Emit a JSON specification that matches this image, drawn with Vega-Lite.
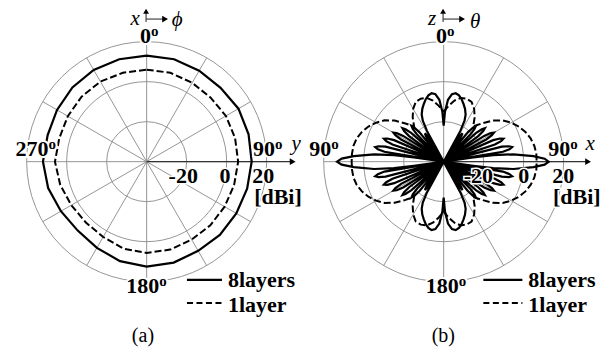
{
  "$schema": "https://vega.github.io/schema/vega-lite/v6.json",
  "padding": 0,
  "bounds": "flush",
  "spacing": 0,
  "config": {"font": "Liberation Serif", "view": {"stroke": null}, "axis": {"disable": true}},
  "data": {"values": [
    {"p":"a","k":"ring","g":-20},{"p":"a","k":"ring","g":0},{"p":"a","k":"ring","g":20},
    {"p":"b","k":"ring","g":-20},{"p":"b","k":"ring","g":0},{"p":"b","k":"ring","g":20},
    {"p":"a","k":"sp","a":0},{"p":"a","k":"sp","a":30},{"p":"a","k":"sp","a":60},{"p":"a","k":"sp","a":90},{"p":"a","k":"sp","a":120},{"p":"a","k":"sp","a":150},
    {"p":"a","k":"sp","a":180},{"p":"a","k":"sp","a":210},{"p":"a","k":"sp","a":240},{"p":"a","k":"sp","a":270},{"p":"a","k":"sp","a":300},{"p":"a","k":"sp","a":330},
    {"p":"b","k":"sp","a":0},{"p":"b","k":"sp","a":30},{"p":"b","k":"sp","a":60},{"p":"b","k":"sp","a":90},{"p":"b","k":"sp","a":120},{"p":"b","k":"sp","a":150},
    {"p":"b","k":"sp","a":180},{"p":"b","k":"sp","a":210},{"p":"b","k":"sp","a":240},{"p":"b","k":"sp","a":270},{"p":"b","k":"sp","a":300},{"p":"b","k":"sp","a":330},

    {"p":"a","k":"ax","x":0,"y":0,"x2":73,"y2":0},
    {"p":"a","k":"ax","x":-0.3,"y":69.85,"x2":-0.3,"y2":74.5},
    {"p":"a","k":"ax","x":-0.3,"y":71.3,"x2":8.5,"y2":71.3},
    {"p":"b","k":"ax","x":0,"y":0,"x2":72,"y2":0},
    {"p":"b","k":"ax","x":-0.3,"y":69.85,"x2":-0.3,"y2":74.5},
    {"p":"b","k":"ax","x":-0.3,"y":71.3,"x2":8.5,"y2":71.3},
    {"p":"a","k":"hr","x":73,"y":0},{"p":"a","k":"hr","x":9.2,"y":71.3},{"p":"a","k":"hu","x":-0.3,"y":75.2},
    {"p":"b","k":"hr","x":72.2,"y":0},{"p":"b","k":"hr","x":9.2,"y":71.3},{"p":"b","k":"hu","x":-0.3,"y":75.2},

    {"p":"a","k":"dn","t":"0","x":2.15,"y":59.2},{"p":"a","k":"dn","t":"90","x":64.15,"y":2.9},
    {"p":"a","k":"dn","t":"270","x":-49.1,"y":2.9},{"p":"a","k":"dn","t":"180","x":6.3,"y":-65.65},
    {"p":"b","k":"dn","t":"0","x":1.7,"y":59.2},{"p":"b","k":"dn","t":"90","x":63.35,"y":2.9},
    {"p":"b","k":"dn","t":"90","x":-56.15,"y":2.9},{"p":"b","k":"dn","t":"180","x":7.5,"y":-65.65},
    {"p":"a","k":"do","t":"o","x":2.15,"y":62.85},{"p":"a","k":"do","t":"o","x":64.15,"y":6.55},
    {"p":"a","k":"do","t":"o","x":-49.1,"y":6.55},{"p":"a","k":"do","t":"o","x":6.3,"y":-62},
    {"p":"b","k":"do","t":"o","x":1.7,"y":62.85},{"p":"b","k":"do","t":"o","x":63.35,"y":6.55},
    {"p":"b","k":"do","t":"o","x":-56.15,"y":6.55},{"p":"b","k":"do","t":"o","x":7.5,"y":-62},
    {"p":"a","k":"tk","t":"-20","x":18.3,"y":-10.65},{"p":"a","k":"tk","t":"0","x":39.15,"y":-10.65},
    {"p":"a","k":"tk","t":"20","x":58.3,"y":-10.65},{"p":"a","k":"tk","t":"[dBi]","x":65.65,"y":-21.4},
    {"p":"b","k":"tk","t":"-20","x":17.35,"y":-10.65},{"p":"b","k":"tk","t":"0","x":40,"y":-10.65},
    {"p":"b","k":"tk","t":"20","x":59.85,"y":-10.65},{"p":"b","k":"tk","t":"[dBi]","x":66.6,"y":-21.4},
    {"p":"a","k":"it","t":"x","x":-5.8,"y":68.3},{"p":"a","k":"it","t":"ϕ","x":15.2,"y":68.05},{"p":"a","k":"it","t":"y","x":74.7,"y":6.0},
    {"p":"b","k":"it","t":"z","x":-5.8,"y":68.3},{"p":"b","k":"it","t":"θ","x":15.7,"y":66.85},{"p":"b","k":"it","t":"x","x":73.3,"y":6.0},
    {"p":"a","k":"l8","x":20.15,"y":-59.15,"x2":37.65,"y2":-59.15},{"p":"a","k":"l1","x":20.15,"y":-70.65,"x2":37.65,"y2":-70.65},
    {"p":"b","k":"l8","x":19.85,"y":-59.15,"x2":39.35,"y2":-59.15},{"p":"b","k":"l1","x":19.85,"y":-70.65,"x2":39.35,"y2":-70.65},
    {"p":"a","k":"lg","t":"8layers","x":40.65,"y":-62.5},{"p":"a","k":"lg","t":"1layer","x":40.65,"y":-75},
    {"p":"b","k":"lg","t":"8layers","x":42.35,"y":-62.5},{"p":"b","k":"lg","t":"1layer","x":42.35,"y":-75},
    {"p":"a","k":"cp","t":"(a)","x":-1.85,"y":-90.4},{"p":"b","k":"cp","t":"(b)","x":-0.15,"y":-90.4},

    {"p":"a","k":"c8","a":0,"g":13},{"p":"a","k":"c8","a":15,"g":13},{"p":"a","k":"c8","a":30,"g":12.5},{"p":"a","k":"c8","a":45,"g":12.25},
    {"p":"a","k":"c8","a":60,"g":13},{"p":"a","k":"c8","a":75,"g":12.75},{"p":"a","k":"c8","a":90,"g":12.5},{"p":"a","k":"c8","a":105,"g":12},
    {"p":"a","k":"c8","a":120,"g":11.75},{"p":"a","k":"c8","a":135,"g":11.75},{"p":"a","k":"c8","a":150,"g":11.5},{"p":"a","k":"c8","a":165,"g":12.25},
    {"p":"a","k":"c8","a":180,"g":12.5},{"p":"a","k":"c8","a":195,"g":11.5},{"p":"a","k":"c8","a":210,"g":9.75},{"p":"a","k":"c8","a":225,"g":8.75},
    {"p":"a","k":"c8","a":240,"g":9.5},{"p":"a","k":"c8","a":255,"g":11},{"p":"a","k":"c8","a":270,"g":11.85},{"p":"a","k":"c8","a":285,"g":11.25},
    {"p":"a","k":"c8","a":300,"g":11.75},{"p":"a","k":"c8","a":315,"g":12.5},{"p":"a","k":"c8","a":330,"g":13},{"p":"a","k":"c8","a":345,"g":13},
    {"p":"a","k":"c8","a":360,"g":13},

    {"p":"a","k":"c1","a":0,"g":6},{"p":"a","k":"c1","a":15,"g":6},{"p":"a","k":"c1","a":30,"g":5.5},{"p":"a","k":"c1","a":45,"g":5.25},
    {"p":"a","k":"c1","a":60,"g":5.75},{"p":"a","k":"c1","a":75,"g":5.75},{"p":"a","k":"c1","a":90,"g":5.75},{"p":"a","k":"c1","a":105,"g":5.25},
    {"p":"a","k":"c1","a":120,"g":5},{"p":"a","k":"c1","a":135,"g":5},{"p":"a","k":"c1","a":150,"g":5},{"p":"a","k":"c1","a":165,"g":5.5},
    {"p":"a","k":"c1","a":180,"g":5.65},{"p":"a","k":"c1","a":195,"g":5},{"p":"a","k":"c1","a":210,"g":3.5},{"p":"a","k":"c1","a":225,"g":3},
    {"p":"a","k":"c1","a":240,"g":3.5},{"p":"a","k":"c1","a":255,"g":4.75},{"p":"a","k":"c1","a":270,"g":5.85},{"p":"a","k":"c1","a":285,"g":5.25},
    {"p":"a","k":"c1","a":300,"g":5.5},{"p":"a","k":"c1","a":315,"g":6},{"p":"a","k":"c1","a":330,"g":6.25},{"p":"a","k":"c1","a":345,"g":6},
    {"p":"a","k":"c1","a":360,"g":6},

    {"p":"b","k":"c1","a":0,"g":-15},{"p":"b","k":"c1","a":5,"g":-12},{"p":"b","k":"c1","a":10,"g":-9},{"p":"b","k":"c1","a":15,"g":-7},
    {"p":"b","k":"c1","a":20,"g":-6.5},{"p":"b","k":"c1","a":25,"g":-7},{"p":"b","k":"c1","a":30,"g":-9.5},{"p":"b","k":"c1","a":35,"g":-13},
    {"p":"b","k":"c1","a":40,"g":-17},{"p":"b","k":"c1","a":45,"g":-13},{"p":"b","k":"c1","a":50,"g":-8},{"p":"b","k":"c1","a":55,"g":-4},
    {"p":"b","k":"c1","a":60,"g":-1},{"p":"b","k":"c1","a":65,"g":1.5},{"p":"b","k":"c1","a":70,"g":3.5},{"p":"b","k":"c1","a":75,"g":5},
    {"p":"b","k":"c1","a":80,"g":6},{"p":"b","k":"c1","a":85,"g":6.5},{"p":"b","k":"c1","a":90,"g":6.5},{"p":"b","k":"c1","a":95,"g":6.5},
    {"p":"b","k":"c1","a":100,"g":6},{"p":"b","k":"c1","a":105,"g":5},{"p":"b","k":"c1","a":110,"g":3.5},{"p":"b","k":"c1","a":115,"g":1.5},
    {"p":"b","k":"c1","a":120,"g":-1},{"p":"b","k":"c1","a":125,"g":-4},{"p":"b","k":"c1","a":130,"g":-8},{"p":"b","k":"c1","a":135,"g":-13},
    {"p":"b","k":"c1","a":140,"g":-17},{"p":"b","k":"c1","a":145,"g":-13},{"p":"b","k":"c1","a":150,"g":-9.5},{"p":"b","k":"c1","a":155,"g":-7},
    {"p":"b","k":"c1","a":160,"g":-6.5},{"p":"b","k":"c1","a":165,"g":-7},{"p":"b","k":"c1","a":170,"g":-9},{"p":"b","k":"c1","a":175,"g":-12},
    {"p":"b","k":"c1","a":180,"g":-15},{"p":"b","k":"c1","a":185,"g":-12},{"p":"b","k":"c1","a":190,"g":-9},{"p":"b","k":"c1","a":195,"g":-7},
    {"p":"b","k":"c1","a":200,"g":-6.5},{"p":"b","k":"c1","a":205,"g":-7},{"p":"b","k":"c1","a":210,"g":-9.5},{"p":"b","k":"c1","a":215,"g":-13},
    {"p":"b","k":"c1","a":220,"g":-17},{"p":"b","k":"c1","a":225,"g":-13},{"p":"b","k":"c1","a":230,"g":-8},{"p":"b","k":"c1","a":235,"g":-4},
    {"p":"b","k":"c1","a":240,"g":-1},{"p":"b","k":"c1","a":245,"g":1.5},{"p":"b","k":"c1","a":250,"g":3.5},{"p":"b","k":"c1","a":255,"g":5},
    {"p":"b","k":"c1","a":260,"g":5.8},{"p":"b","k":"c1","a":265,"g":6},{"p":"b","k":"c1","a":270,"g":6},{"p":"b","k":"c1","a":275,"g":6},
    {"p":"b","k":"c1","a":280,"g":5.8},{"p":"b","k":"c1","a":285,"g":5},{"p":"b","k":"c1","a":290,"g":3.5},{"p":"b","k":"c1","a":295,"g":1.5},
    {"p":"b","k":"c1","a":300,"g":-1},{"p":"b","k":"c1","a":305,"g":-4},{"p":"b","k":"c1","a":310,"g":-8},{"p":"b","k":"c1","a":315,"g":-13},
    {"p":"b","k":"c1","a":320,"g":-17},{"p":"b","k":"c1","a":325,"g":-13},{"p":"b","k":"c1","a":330,"g":-9.5},{"p":"b","k":"c1","a":335,"g":-7},
    {"p":"b","k":"c1","a":340,"g":-6.5},{"p":"b","k":"c1","a":345,"g":-7},{"p":"b","k":"c1","a":350,"g":-9},{"p":"b","k":"c1","a":355,"g":-12},
    {"p":"b","k":"c1","a":360,"g":-15},

    {"p":"b","k":"c8","a":0,"g":-22},{"p":"b","k":"c8","a":1.5,"g":-15},{"p":"b","k":"c8","a":4,"g":-9},{"p":"b","k":"c8","a":7,"g":-6},
    {"p":"b","k":"c8","a":10,"g":-5.25},{"p":"b","k":"c8","a":13,"g":-6},{"p":"b","k":"c8","a":16,"g":-7.5},{"p":"b","k":"c8","a":19,"g":-9.5},
    {"p":"b","k":"c8","a":22,"g":-11.5},{"p":"b","k":"c8","a":25,"g":-14},{"p":"b","k":"c8","a":27,"g":-17},{"p":"b","k":"c8","a":28.5,"g":-22.5},
    {"p":"b","k":"c8","a":29.5,"g":-40},
    {"p":"b","k":"c8","a":30,"g":-40},{"p":"b","k":"c8","a":31,"g":-28},{"p":"b","k":"c8","a":32.2,"g":-24.5},{"p":"b","k":"c8","a":33.5,"g":-23},{"p":"b","k":"c8","a":34.8,"g":-24.5},{"p":"b","k":"c8","a":36,"g":-28},{"p":"b","k":"c8","a":37,"g":-40},
    {"p":"b","k":"c8","a":38.5,"g":-40},{"p":"b","k":"c8","a":39.5,"g":-21},{"p":"b","k":"c8","a":40.7,"g":-17.5},{"p":"b","k":"c8","a":42,"g":-16},{"p":"b","k":"c8","a":43.3,"g":-17.5},{"p":"b","k":"c8","a":44.5,"g":-21},{"p":"b","k":"c8","a":45.5,"g":-40},
    {"p":"b","k":"c8","a":47.5,"g":-40},{"p":"b","k":"c8","a":48.5,"g":-18.5},{"p":"b","k":"c8","a":49.7,"g":-15},{"p":"b","k":"c8","a":51,"g":-13.5},{"p":"b","k":"c8","a":52.3,"g":-15},{"p":"b","k":"c8","a":53.5,"g":-18.5},{"p":"b","k":"c8","a":54.5,"g":-40},
    {"p":"b","k":"c8","a":56.5,"g":-40},{"p":"b","k":"c8","a":57.5,"g":-16},{"p":"b","k":"c8","a":58.7,"g":-12.5},{"p":"b","k":"c8","a":60,"g":-11},{"p":"b","k":"c8","a":61.3,"g":-12.5},{"p":"b","k":"c8","a":62.5,"g":-16},{"p":"b","k":"c8","a":63.5,"g":-40},
    {"p":"b","k":"c8","a":65.5,"g":-40},{"p":"b","k":"c8","a":66.5,"g":-13},{"p":"b","k":"c8","a":67.7,"g":-9.5},{"p":"b","k":"c8","a":69,"g":-8},{"p":"b","k":"c8","a":70.3,"g":-9.5},{"p":"b","k":"c8","a":71.5,"g":-13},{"p":"b","k":"c8","a":72.5,"g":-40},
    {"p":"b","k":"c8","a":74.5,"g":-40},{"p":"b","k":"c8","a":75.5,"g":-10},{"p":"b","k":"c8","a":76.7,"g":-6.5},{"p":"b","k":"c8","a":78,"g":-5},{"p":"b","k":"c8","a":79.3,"g":-6.5},{"p":"b","k":"c8","a":80.5,"g":-10},{"p":"b","k":"c8","a":81.5,"g":-40},
    {"p":"b","k":"c8","a":82,"g":-25},{"p":"b","k":"c8","a":82.5,"g":-15},{"p":"b","k":"c8","a":84,"g":-5},{"p":"b","k":"c8","a":86.5,"g":5},{"p":"b","k":"c8","a":88.3,"g":10.5},{"p":"b","k":"c8","a":90,"g":12.5},
    {"p":"b","k":"c8","a":91.7,"g":10.5},{"p":"b","k":"c8","a":93.5,"g":5},{"p":"b","k":"c8","a":96,"g":-5},{"p":"b","k":"c8","a":97.5,"g":-15},{"p":"b","k":"c8","a":98,"g":-25},
    {"p":"b","k":"c8","a":98.5,"g":-40},{"p":"b","k":"c8","a":99.5,"g":-10},{"p":"b","k":"c8","a":100.7,"g":-6.5},{"p":"b","k":"c8","a":102,"g":-5},{"p":"b","k":"c8","a":103.3,"g":-6.5},{"p":"b","k":"c8","a":104.5,"g":-10},{"p":"b","k":"c8","a":105.5,"g":-40},
    {"p":"b","k":"c8","a":107.5,"g":-40},{"p":"b","k":"c8","a":108.5,"g":-13},{"p":"b","k":"c8","a":109.7,"g":-9.5},{"p":"b","k":"c8","a":111,"g":-8},{"p":"b","k":"c8","a":112.3,"g":-9.5},{"p":"b","k":"c8","a":113.5,"g":-13},{"p":"b","k":"c8","a":114.5,"g":-40},
    {"p":"b","k":"c8","a":116.5,"g":-40},{"p":"b","k":"c8","a":117.5,"g":-16},{"p":"b","k":"c8","a":118.7,"g":-12.5},{"p":"b","k":"c8","a":120,"g":-11},{"p":"b","k":"c8","a":121.3,"g":-12.5},{"p":"b","k":"c8","a":122.5,"g":-16},{"p":"b","k":"c8","a":123.5,"g":-40},
    {"p":"b","k":"c8","a":125.5,"g":-40},{"p":"b","k":"c8","a":126.5,"g":-18.5},{"p":"b","k":"c8","a":127.7,"g":-15},{"p":"b","k":"c8","a":129,"g":-13.5},{"p":"b","k":"c8","a":130.3,"g":-15},{"p":"b","k":"c8","a":131.5,"g":-18.5},{"p":"b","k":"c8","a":132.5,"g":-40},
    {"p":"b","k":"c8","a":134.5,"g":-40},{"p":"b","k":"c8","a":135.5,"g":-21},{"p":"b","k":"c8","a":136.7,"g":-17.5},{"p":"b","k":"c8","a":138,"g":-16},{"p":"b","k":"c8","a":139.3,"g":-17.5},{"p":"b","k":"c8","a":140.5,"g":-21},{"p":"b","k":"c8","a":141.5,"g":-40},
    {"p":"b","k":"c8","a":143,"g":-40},{"p":"b","k":"c8","a":144,"g":-28},{"p":"b","k":"c8","a":145.2,"g":-24.5},{"p":"b","k":"c8","a":146.5,"g":-23},{"p":"b","k":"c8","a":147.8,"g":-24.5},{"p":"b","k":"c8","a":149,"g":-28},{"p":"b","k":"c8","a":150,"g":-40},
    {"p":"b","k":"c8","a":150.5,"g":-40},{"p":"b","k":"c8","a":151.5,"g":-22.5},{"p":"b","k":"c8","a":153,"g":-17},{"p":"b","k":"c8","a":155,"g":-14},{"p":"b","k":"c8","a":158,"g":-11.5},
    {"p":"b","k":"c8","a":161,"g":-9.5},{"p":"b","k":"c8","a":164,"g":-7.5},{"p":"b","k":"c8","a":167,"g":-6},{"p":"b","k":"c8","a":170,"g":-5.25},
    {"p":"b","k":"c8","a":173,"g":-6},{"p":"b","k":"c8","a":176,"g":-9},{"p":"b","k":"c8","a":178.5,"g":-15},{"p":"b","k":"c8","a":180,"g":-22},
    {"p":"b","k":"c8","a":181.5,"g":-15},{"p":"b","k":"c8","a":184,"g":-9},{"p":"b","k":"c8","a":187,"g":-6},{"p":"b","k":"c8","a":190,"g":-5.25},
    {"p":"b","k":"c8","a":193,"g":-6},{"p":"b","k":"c8","a":196,"g":-7.5},{"p":"b","k":"c8","a":199,"g":-9.5},{"p":"b","k":"c8","a":202,"g":-11.5},
    {"p":"b","k":"c8","a":205,"g":-14},{"p":"b","k":"c8","a":207,"g":-17},{"p":"b","k":"c8","a":208.5,"g":-22.5},{"p":"b","k":"c8","a":209.5,"g":-40},
    {"p":"b","k":"c8","a":210,"g":-40},{"p":"b","k":"c8","a":211,"g":-28},{"p":"b","k":"c8","a":212.2,"g":-24.5},{"p":"b","k":"c8","a":213.5,"g":-23},{"p":"b","k":"c8","a":214.8,"g":-24.5},{"p":"b","k":"c8","a":216,"g":-28},{"p":"b","k":"c8","a":217,"g":-40},
    {"p":"b","k":"c8","a":218.5,"g":-40},{"p":"b","k":"c8","a":219.5,"g":-21},{"p":"b","k":"c8","a":220.7,"g":-17.5},{"p":"b","k":"c8","a":222,"g":-16},{"p":"b","k":"c8","a":223.3,"g":-17.5},{"p":"b","k":"c8","a":224.5,"g":-21},{"p":"b","k":"c8","a":225.5,"g":-40},
    {"p":"b","k":"c8","a":227.5,"g":-40},{"p":"b","k":"c8","a":228.5,"g":-18.5},{"p":"b","k":"c8","a":229.7,"g":-15},{"p":"b","k":"c8","a":231,"g":-13.5},{"p":"b","k":"c8","a":232.3,"g":-15},{"p":"b","k":"c8","a":233.5,"g":-18.5},{"p":"b","k":"c8","a":234.5,"g":-40},
    {"p":"b","k":"c8","a":236.5,"g":-40},{"p":"b","k":"c8","a":237.5,"g":-16},{"p":"b","k":"c8","a":238.7,"g":-12.5},{"p":"b","k":"c8","a":240,"g":-11},{"p":"b","k":"c8","a":241.3,"g":-12.5},{"p":"b","k":"c8","a":242.5,"g":-16},{"p":"b","k":"c8","a":243.5,"g":-40},
    {"p":"b","k":"c8","a":245.5,"g":-40},{"p":"b","k":"c8","a":246.5,"g":-13},{"p":"b","k":"c8","a":247.7,"g":-9.5},{"p":"b","k":"c8","a":249,"g":-8},{"p":"b","k":"c8","a":250.3,"g":-9.5},{"p":"b","k":"c8","a":251.5,"g":-13},{"p":"b","k":"c8","a":252.5,"g":-40},
    {"p":"b","k":"c8","a":254.5,"g":-40},{"p":"b","k":"c8","a":255.5,"g":-10},{"p":"b","k":"c8","a":256.7,"g":-6.5},{"p":"b","k":"c8","a":258,"g":-5},{"p":"b","k":"c8","a":259.3,"g":-6.5},{"p":"b","k":"c8","a":260.5,"g":-10},{"p":"b","k":"c8","a":261.5,"g":-40},
    {"p":"b","k":"c8","a":262,"g":-25},{"p":"b","k":"c8","a":262.5,"g":-15},{"p":"b","k":"c8","a":264,"g":-5},{"p":"b","k":"c8","a":266.5,"g":5},{"p":"b","k":"c8","a":268.3,"g":11},{"p":"b","k":"c8","a":270,"g":13.3},
    {"p":"b","k":"c8","a":271.7,"g":11},{"p":"b","k":"c8","a":273.5,"g":5},{"p":"b","k":"c8","a":276,"g":-5},{"p":"b","k":"c8","a":277.5,"g":-15},{"p":"b","k":"c8","a":278,"g":-25},
    {"p":"b","k":"c8","a":278.5,"g":-40},{"p":"b","k":"c8","a":279.5,"g":-10},{"p":"b","k":"c8","a":280.7,"g":-6.5},{"p":"b","k":"c8","a":282,"g":-5},{"p":"b","k":"c8","a":283.3,"g":-6.5},{"p":"b","k":"c8","a":284.5,"g":-10},{"p":"b","k":"c8","a":285.5,"g":-40},
    {"p":"b","k":"c8","a":287.5,"g":-40},{"p":"b","k":"c8","a":288.5,"g":-13},{"p":"b","k":"c8","a":289.7,"g":-9.5},{"p":"b","k":"c8","a":291,"g":-8},{"p":"b","k":"c8","a":292.3,"g":-9.5},{"p":"b","k":"c8","a":293.5,"g":-13},{"p":"b","k":"c8","a":294.5,"g":-40},
    {"p":"b","k":"c8","a":296.5,"g":-40},{"p":"b","k":"c8","a":297.5,"g":-16},{"p":"b","k":"c8","a":298.7,"g":-12.5},{"p":"b","k":"c8","a":300,"g":-11},{"p":"b","k":"c8","a":301.3,"g":-12.5},{"p":"b","k":"c8","a":302.5,"g":-16},{"p":"b","k":"c8","a":303.5,"g":-40},
    {"p":"b","k":"c8","a":305.5,"g":-40},{"p":"b","k":"c8","a":306.5,"g":-18.5},{"p":"b","k":"c8","a":307.7,"g":-15},{"p":"b","k":"c8","a":309,"g":-13.5},{"p":"b","k":"c8","a":310.3,"g":-15},{"p":"b","k":"c8","a":311.5,"g":-18.5},{"p":"b","k":"c8","a":312.5,"g":-40},
    {"p":"b","k":"c8","a":314.5,"g":-40},{"p":"b","k":"c8","a":315.5,"g":-21},{"p":"b","k":"c8","a":316.7,"g":-17.5},{"p":"b","k":"c8","a":318,"g":-16},{"p":"b","k":"c8","a":319.3,"g":-17.5},{"p":"b","k":"c8","a":320.5,"g":-21},{"p":"b","k":"c8","a":321.5,"g":-40},
    {"p":"b","k":"c8","a":323,"g":-40},{"p":"b","k":"c8","a":324,"g":-28},{"p":"b","k":"c8","a":325.2,"g":-24.5},{"p":"b","k":"c8","a":326.5,"g":-23},{"p":"b","k":"c8","a":327.8,"g":-24.5},{"p":"b","k":"c8","a":329,"g":-28},{"p":"b","k":"c8","a":330,"g":-40},
    {"p":"b","k":"c8","a":330.5,"g":-40},{"p":"b","k":"c8","a":331.5,"g":-22.5},{"p":"b","k":"c8","a":333,"g":-17},{"p":"b","k":"c8","a":335,"g":-14},{"p":"b","k":"c8","a":338,"g":-11.5},
    {"p":"b","k":"c8","a":341,"g":-9.5},{"p":"b","k":"c8","a":344,"g":-7.5},{"p":"b","k":"c8","a":347,"g":-6},{"p":"b","k":"c8","a":350,"g":-5.25},
    {"p":"b","k":"c8","a":353,"g":-6},{"p":"b","k":"c8","a":356,"g":-9},{"p":"b","k":"c8","a":358.5,"g":-15},{"p":"b","k":"c8","a":360,"g":-22}
  ]},
  "facet": {"column": {"field": "p", "type": "nominal", "header": {"title": null, "labels": false}}},
  "spec": {
    "width": 296.67,
    "height": 350,
    "layer": [
      {
        "transform": [
          {"filter": "datum.k === 'ring'"},
          {"calculate": "datum.g + 40", "as": "r"},
          {"calculate": "0", "as": "x"},
          {"calculate": "0", "as": "y"}
        ],
        "mark": {"type": "point", "shape": "circle", "filled": false, "stroke": "#8a8a8a", "strokeWidth": 0.9, "opacity": 1},
        "encoding": {
          "x": {"field": "x", "type": "quantitative", "scale": {"domain": [-73.33, 75], "nice": false, "zero": false}},
          "y": {"field": "y", "type": "quantitative", "scale": {"domain": [-94.17, 80.83], "nice": false, "zero": false}},
          "size": {"field": "r", "type": "quantitative", "scale": {"type": "pow", "exponent": 2, "domain": [0, 60], "range": [0, 57600]}, "legend": null}
        }
      },
      {
        "transform": [
          {"filter": "datum.k === 'sp'"},
          {"calculate": "0", "as": "x"},
          {"calculate": "0", "as": "y"},
          {"calculate": "60 * sin(datum.a * PI / 180)", "as": "x2"},
          {"calculate": "60 * cos(datum.a * PI / 180)", "as": "y2"}
        ],
        "mark": {"type": "rule", "color": "#8a8a8a", "strokeWidth": 0.9},
        "encoding": {
          "x": {"field": "x", "type": "quantitative", "scale": {"domain": [-73.33, 75], "nice": false, "zero": false}},
          "y": {"field": "y", "type": "quantitative", "scale": {"domain": [-94.17, 80.83], "nice": false, "zero": false}},
          "x2": {"field": "x2"},
          "y2": {"field": "y2"}
        }
      },
      {
        "transform": [{"filter": "datum.k === 'ax'"}],
        "mark": {"type": "rule", "color": "#333333", "strokeWidth": 1.1},
        "encoding": {
          "x": {"field": "x", "type": "quantitative", "scale": {"domain": [-73.33, 75], "nice": false, "zero": false}},
          "y": {"field": "y", "type": "quantitative", "scale": {"domain": [-94.17, 80.83], "nice": false, "zero": false}},
          "x2": {"field": "x2"},
          "y2": {"field": "y2"}
        }
      },
      {
        "transform": [{"filter": "datum.k === 'hr'"}],
        "mark": {"type": "point", "shape": "triangle-right", "filled": true, "color": "#000000", "opacity": 1, "size": 45},
        "encoding": {
          "x": {"field": "x", "type": "quantitative", "scale": {"domain": [-73.33, 75], "nice": false, "zero": false}},
          "y": {"field": "y", "type": "quantitative", "scale": {"domain": [-94.17, 80.83], "nice": false, "zero": false}}
        }
      },
      {
        "transform": [{"filter": "datum.k === 'hu'"}],
        "mark": {"type": "point", "shape": "triangle-up", "filled": true, "color": "#000000", "opacity": 1, "size": 35},
        "encoding": {
          "x": {"field": "x", "type": "quantitative", "scale": {"domain": [-73.33, 75], "nice": false, "zero": false}},
          "y": {"field": "y", "type": "quantitative", "scale": {"domain": [-94.17, 80.83], "nice": false, "zero": false}}
        }
      },
      {
        "transform": [
          {"filter": "datum.k === 'c1'"},
          {"calculate": "max(datum.g + 40, 0)", "as": "r"},
          {"calculate": "datum.r * sin(datum.a * PI / 180)", "as": "x"},
          {"calculate": "datum.r * cos(datum.a * PI / 180)", "as": "y"}
        ],
        "mark": {"type": "line", "color": "#000000", "strokeWidth": 2, "strokeDash": [7, 3]},
        "encoding": {
          "x": {"field": "x", "type": "quantitative", "scale": {"domain": [-73.33, 75], "nice": false, "zero": false}},
          "y": {"field": "y", "type": "quantitative", "scale": {"domain": [-94.17, 80.83], "nice": false, "zero": false}},
          "order": {"field": "a", "type": "quantitative"}
        }
      },
      {
        "transform": [
          {"filter": "datum.k === 'c8'"},
          {"calculate": "max(datum.g + 40, 0)", "as": "r"},
          {"calculate": "datum.r * sin(datum.a * PI / 180)", "as": "x"},
          {"calculate": "datum.r * cos(datum.a * PI / 180)", "as": "y"}
        ],
        "mark": {"type": "line", "color": "#000000", "strokeWidth": 2.2},
        "encoding": {
          "x": {"field": "x", "type": "quantitative", "scale": {"domain": [-73.33, 75], "nice": false, "zero": false}},
          "y": {"field": "y", "type": "quantitative", "scale": {"domain": [-94.17, 80.83], "nice": false, "zero": false}},
          "order": {"field": "a", "type": "quantitative"}
        }
      },
      {
        "transform": [{"filter": "datum.k === 'dn'"}],
        "mark": {"type": "text", "font": "Liberation Serif", "align": "right", "baseline": "alphabetic", "fontSize": 22, "fontWeight": "bold", "fill": "white", "stroke": "white", "strokeWidth": 4},
        "encoding": {
          "x": {"field": "x", "type": "quantitative", "scale": {"domain": [-73.33, 75], "nice": false, "zero": false}},
          "y": {"field": "y", "type": "quantitative", "scale": {"domain": [-94.17, 80.83], "nice": false, "zero": false}},
          "text": {"field": "t"}
        }
      },
      {
        "transform": [{"filter": "datum.k === 'do'"}],
        "mark": {"type": "text", "font": "Liberation Serif", "align": "left", "baseline": "alphabetic", "fontSize": 15, "fontWeight": "bold", "fill": "white", "stroke": "white", "strokeWidth": 4},
        "encoding": {
          "x": {"field": "x", "type": "quantitative", "scale": {"domain": [-73.33, 75], "nice": false, "zero": false}},
          "y": {"field": "y", "type": "quantitative", "scale": {"domain": [-94.17, 80.83], "nice": false, "zero": false}},
          "text": {"field": "t"}
        }
      },
      {
        "transform": [{"filter": "datum.k === 'tk'"}],
        "mark": {"type": "text", "font": "Liberation Serif", "align": "center", "baseline": "alphabetic", "fontSize": 22, "fontWeight": "bold", "fill": "white", "stroke": "white", "strokeWidth": 3},
        "encoding": {
          "x": {"field": "x", "type": "quantitative", "scale": {"domain": [-73.33, 75], "nice": false, "zero": false}},
          "y": {"field": "y", "type": "quantitative", "scale": {"domain": [-94.17, 80.83], "nice": false, "zero": false}},
          "text": {"field": "t"}
        }
      },
      {
        "transform": [{"filter": "datum.k === 'dn'"}],
        "mark": {"type": "text", "font": "Liberation Serif", "align": "right", "baseline": "alphabetic", "fontSize": 22, "fontWeight": "bold", "fill": "black"},
        "encoding": {
          "x": {"field": "x", "type": "quantitative", "scale": {"domain": [-73.33, 75], "nice": false, "zero": false}},
          "y": {"field": "y", "type": "quantitative", "scale": {"domain": [-94.17, 80.83], "nice": false, "zero": false}},
          "text": {"field": "t"}
        }
      },
      {
        "transform": [{"filter": "datum.k === 'do'"}],
        "mark": {"type": "text", "font": "Liberation Serif", "align": "left", "baseline": "alphabetic", "fontSize": 15, "fontWeight": "bold", "fill": "black"},
        "encoding": {
          "x": {"field": "x", "type": "quantitative", "scale": {"domain": [-73.33, 75], "nice": false, "zero": false}},
          "y": {"field": "y", "type": "quantitative", "scale": {"domain": [-94.17, 80.83], "nice": false, "zero": false}},
          "text": {"field": "t"}
        }
      },
      {
        "transform": [{"filter": "datum.k === 'tk'"}],
        "mark": {"type": "text", "font": "Liberation Serif", "align": "center", "baseline": "alphabetic", "fontSize": 22, "fontWeight": "bold", "fill": "black"},
        "encoding": {
          "x": {"field": "x", "type": "quantitative", "scale": {"domain": [-73.33, 75], "nice": false, "zero": false}},
          "y": {"field": "y", "type": "quantitative", "scale": {"domain": [-94.17, 80.83], "nice": false, "zero": false}},
          "text": {"field": "t"}
        }
      },
      {
        "transform": [{"filter": "datum.k === 'it'"}],
        "mark": {"type": "text", "font": "Liberation Serif", "align": "center", "baseline": "alphabetic", "fontSize": 21, "fontStyle": "italic", "fill": "black"},
        "encoding": {
          "x": {"field": "x", "type": "quantitative", "scale": {"domain": [-73.33, 75], "nice": false, "zero": false}},
          "y": {"field": "y", "type": "quantitative", "scale": {"domain": [-94.17, 80.83], "nice": false, "zero": false}},
          "text": {"field": "t"}
        }
      },
      {
        "transform": [{"filter": "datum.k === 'l8'"}],
        "mark": {"type": "rule", "color": "#000000", "strokeWidth": 2.3},
        "encoding": {
          "x": {"field": "x", "type": "quantitative", "scale": {"domain": [-73.33, 75], "nice": false, "zero": false}},
          "y": {"field": "y", "type": "quantitative", "scale": {"domain": [-94.17, 80.83], "nice": false, "zero": false}},
          "x2": {"field": "x2"},
          "y2": {"field": "y2"}
        }
      },
      {
        "transform": [{"filter": "datum.k === 'l1'"}],
        "mark": {"type": "rule", "color": "#000000", "strokeWidth": 2, "strokeDash": [6, 3.5]},
        "encoding": {
          "x": {"field": "x", "type": "quantitative", "scale": {"domain": [-73.33, 75], "nice": false, "zero": false}},
          "y": {"field": "y", "type": "quantitative", "scale": {"domain": [-94.17, 80.83], "nice": false, "zero": false}},
          "x2": {"field": "x2"},
          "y2": {"field": "y2"}
        }
      },
      {
        "transform": [{"filter": "datum.k === 'lg'"}],
        "mark": {"type": "text", "font": "Liberation Serif", "align": "left", "baseline": "alphabetic", "fontSize": 22, "fontWeight": "bold", "fill": "black"},
        "encoding": {
          "x": {"field": "x", "type": "quantitative", "scale": {"domain": [-73.33, 75], "nice": false, "zero": false}},
          "y": {"field": "y", "type": "quantitative", "scale": {"domain": [-94.17, 80.83], "nice": false, "zero": false}},
          "text": {"field": "t"}
        }
      },
      {
        "transform": [{"filter": "datum.k === 'cp'"}],
        "mark": {"type": "text", "font": "Liberation Serif", "align": "center", "baseline": "alphabetic", "fontSize": 20, "fill": "black"},
        "encoding": {
          "x": {"field": "x", "type": "quantitative", "scale": {"domain": [-73.33, 75], "nice": false, "zero": false}},
          "y": {"field": "y", "type": "quantitative", "scale": {"domain": [-94.17, 80.83], "nice": false, "zero": false}},
          "text": {"field": "t"}
        }
      }
    ]
  }
}
